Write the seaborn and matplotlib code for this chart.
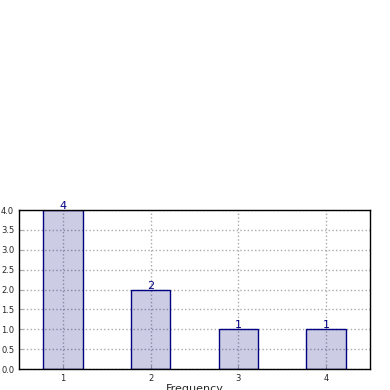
import matplotlib
matplotlib.use("Agg")
import matplotlib.pyplot as plt
import seaborn as sns
import pandas as pd

categories = [1, 2, 3, 4]
counts = [4, 2, 1, 1]
xlabel = "Frequency"

sns.set_style("ticks")
plt.rcParams['font.family'] = ['DejaVu Sans']

df = pd.DataFrame({"x": categories, "y": counts})

fig = plt.figure(figsize=(3.9, 3.9), dpi=100)
ax = fig.add_axes([0.0487, 0.0538, 0.9, 0.4077])
sns.barplot(data=df, x="x", y="y", native_scale=True, width=0.45,
            color="navy", edgecolor="navy", linewidth=1.0,
            saturation=1, ax=ax, zorder=2)
for p in ax.patches:
    p.set_facecolor((0.0, 0.0, 0.5, 0.2))
    p.set_edgecolor((0.0, 0.0, 0.5, 1.0))
for xv, yv in zip(categories, counts):
    ax.text(xv, yv - 0.03, str(yv), ha="center", va="bottom", color="navy", fontsize=8, zorder=6)

ax.set_xlim(0.5, 4.5)
ax.set_ylim(0, 4)
ax.set_yticks([0, 0.5, 1, 1.5, 2, 2.5, 3, 3.5, 4])
ax.set_yticklabels([f"{v:.1f}" for v in [0, 0.5, 1, 1.5, 2, 2.5, 3, 3.5, 4]])
ax.set_xticks(categories)
ax.set_xticklabels([str(c) for c in categories])
ax.tick_params(direction="in", labelsize=6, length=3, color="#aaaaaa")
ax.set_axisbelow(True)
ax.grid(True, linestyle=":", color="#aaaaaa", linewidth=1.0, zorder=0)
ax.set_xlabel(xlabel, fontsize=8, labelpad=1)
ax.set_ylabel("")
for s in ax.spines.values():
    s.set_color("black")
    s.set_linewidth(1.0)
    s.set_zorder(5)

fig.savefig("out.png", dpi=100)
